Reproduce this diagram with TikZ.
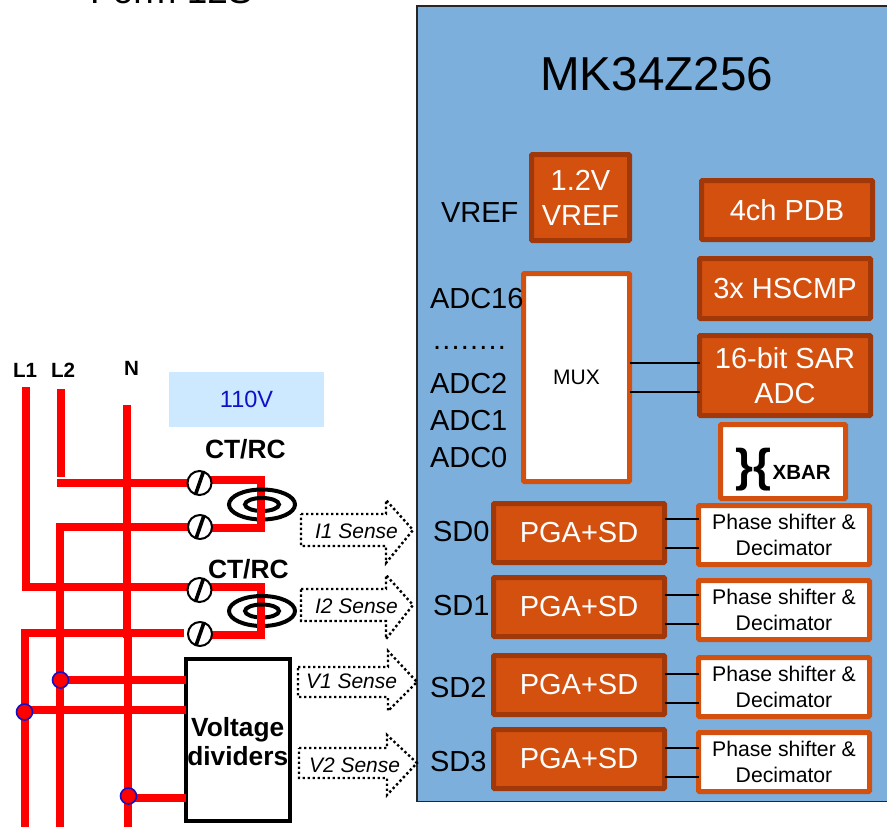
\documentclass[tikz,border=0pt]{standalone}
\usepackage{fontspec}
\usetikzlibrary{calc}
\setmainfont{Liberation Sans}
\newcommand\fsz[2]{\fontsize{#1}{#2}\selectfont}
\definecolor{chipblue}{HTML}{7CAFDC}
\definecolor{blockor}{HTML}{D4500F}
\definecolor{blockdk}{HTML}{A0380A}
\definecolor{paleblue}{HTML}{CCE9FF}
\definecolor{voltblue}{HTML}{1010C8}
\tikzset{
  darkblock/.style={draw=blockdk,fill=blockor,line width=5pt,rounded corners=0.8pt,inner sep=0pt,outer sep=0pt,text=white,align=center},
  big/.style={font=\fsz{29}{35}},
  whiteblock/.style={draw=blockor,fill=white,line width=5pt,rounded corners=0.8pt,inner sep=0pt,outer sep=0pt,text=black,align=center},
  phaseblock/.style={whiteblock,minimum width=171pt,minimum height=59pt,font=\fsz{21.2}{26}},
  pgablock/.style={darkblock,big,minimum width=171pt,minimum height=59pt},
  lbl/.style={anchor=base west,inner sep=0pt,outer sep=0pt,font=\fsz{29}{35},text=black},
  boldlbl/.style={anchor=base west,inner sep=0pt,outer sep=0pt,font=\fsz{26.4}{29}\bfseries,text=black},
  linelbl/.style={anchor=base west,inner sep=0pt,outer sep=0pt,font=\fsz{20.6}{25}\bfseries,text=black},
  senselbl/.style={anchor=base west,inner sep=0pt,outer sep=0pt,font=\fsz{21}{25}\itshape,text=black},
  wire/.style={draw=red,line width=8pt,line join=miter},
  thin link/.style={draw=black,line width=2pt},
  terminal/.style={circle,draw=black,fill=white,line width=2pt,minimum size=24pt,inner sep=0pt,outer sep=0pt},
  slash/.style={draw=black,line width=3.6pt},
  coil/.style={draw=black,line width=4pt},
  junction/.style={circle,draw=voltblue,fill=red,line width=1.6pt,minimum size=16pt,inner sep=0pt,outer sep=0pt},
  sensearrow/.style={draw=black,line width=2.4pt,dash pattern=on 2.4pt off 2.6pt,line join=miter},
}
\begin{document}
\begin{tikzpicture}[x=1pt,y=-1pt]
\clip (0,0) rectangle (887,827);
\useasboundingbox (0,0) rectangle (887,827);
% top clipped title
\node[anchor=base west,inner sep=0pt,font=\fsz{37}{44}] (title) at (90,4) {Form 12S};
% chip
\node[draw=black!85,fill=chipblue,line width=1.6pt,minimum width=480pt,minimum height=795.5pt,inner sep=0pt,outer sep=0pt,anchor=north west] (chip) at (417,6) {};
\node[anchor=base west,inner sep=0pt,font=\fsz{47.6}{55}] (chipname) at (540,90) {MK34Z256};
% blocks
\node[darkblock,big,minimum width=98pt,minimum height=86pt] (vref) at (580.5,197.5) {1.2V\\VREF};
\node[darkblock,big,minimum width=171pt,minimum height=59pt] (pdb) at (787,210) {4ch PDB};
\node[darkblock,big,minimum width=171pt,minimum height=60pt] (hscmp) at (785,288.5) {3x HSCMP};
\node[darkblock,big,minimum width=171pt,minimum height=80pt] (adc) at (785,375.5) {16-bit SAR\\ADC};
\node[whiteblock,minimum width=106pt,minimum height=208pt,font=\fsz{21}{25}] (mux) at (576.5,377.5) {\raisebox{-1pt}{MUX}};
\node[whiteblock,minimum width=125pt,minimum height=74pt] (xbar) at (783,461.5) {};
\node[anchor=base west,inner sep=0pt,font=\fsz{46}{50}\bfseries] (brace) at (735,481) {\}\{};
\node[anchor=base west,inner sep=0pt,font=\fsz{20.5}{25}\bfseries] (xbartext) at (772.5,479) {XBAR};
\node[pgablock] (pga0) at (579,533) {PGA+SD};
\node[pgablock] (pga1) at (579,607) {PGA+SD};
\node[pgablock] (pga2) at (579,685) {PGA+SD};
\node[pgablock] (pga3) at (579,759) {PGA+SD};
\node[phaseblock] (ph0) at (784,535) {Phase shifter \&\\Decimator};
\node[phaseblock] (ph1) at (784,610) {Phase shifter \&\\Decimator};
\node[phaseblock] (ph2) at (784,687) {Phase shifter \&\\Decimator};
\node[phaseblock] (ph3) at (784,762) {Phase shifter \&\\Decimator};
% block links
\draw[thin link] (mux.east |- 0,362.5) -- (adc.west |- 0,362.5);
\draw[thin link] (mux.east |- 0,392) -- (adc.west |- 0,392);
\draw[thin link] (pga0.east |- 0,519) -- (ph0.west |- 0,519);
\draw[thin link] (pga0.east |- 0,548) -- (ph0.west |- 0,548);
\draw[thin link] (pga1.east |- 0,595) -- (ph1.west |- 0,595);
\draw[thin link] (pga1.east |- 0,624) -- (ph1.west |- 0,624);
\draw[thin link] (pga2.east |- 0,674) -- (ph2.west |- 0,674);
\draw[thin link] (pga2.east |- 0,703) -- (ph2.west |- 0,703);
\draw[thin link] (pga3.east |- 0,748) -- (ph3.west |- 0,748);
\draw[thin link] (pga3.east |- 0,777) -- (ph3.west |- 0,777);
% chip labels
\node[lbl] (lvref) at (441,222) {VREF};
\node[lbl] (ladc16) at (430,308) {ADC16};
\node[lbl] (ldots) at (433,349.5) {.\kern1.2pt.\kern1.2pt.\kern1.2pt.\kern1.2pt.\kern1.2pt.\kern1.2pt.\kern1.2pt.};
\node[lbl] (ladc2) at (430,393) {ADC2};
\node[lbl] (ladc1) at (430,430) {ADC1};
\node[lbl] (ladc0) at (430,467) {ADC0};
\node[lbl] (lsd0) at (433,541) {SD0};
\node[lbl] (lsd1) at (433,615) {SD1};
\node[lbl] (lsd2) at (430,697) {SD2};
\node[lbl] (lsd3) at (430,771) {SD3};
% 110V
\node[fill=paleblue,minimum width=155pt,minimum height=55pt,inner sep=0pt,text=voltblue,font=\fsz{23.5}{27}] (volt) at (246.5,399.5) {110V};
% labels
\node[linelbl] (ll1) at (13,377) {L1};
\node[linelbl] (ll2) at (51,377) {L2};
\node[linelbl] (ln) at (124,375) {N};
\node[boldlbl] (ct1) at (205,458) {CT/RC};
\node[boldlbl] (ct2) at (208,578) {CT/RC};
% voltage divider box
\node[draw=black,fill=white,line width=4pt,minimum width=104pt,minimum height=162pt,inner sep=0pt,outer sep=0pt] (vd) at (238,740) {};
\node[anchor=base,inner sep=0pt,font=\fsz{26.3}{29}\bfseries] (vdt1) at (237.7,736) {Voltage};
\node[anchor=base,inner sep=0pt,font=\fsz{26.3}{29}\bfseries] (vdt2) at (237.7,765) {dividers};
% terminals (positions first, drawn after the wires)
\coordinate (t1c) at (199.5,483);
\coordinate (t2c) at (200,527);
\coordinate (t3c) at (199.5,590);
\coordinate (t4c) at (200,634);
% power lines
\coordinate (l1top) at (25.5,387);
\coordinate (l2top) at (60.5,389);
\coordinate (l2end) at (60.5,477);
\coordinate (ntop) at (126.5,405);
\coordinate (nbend) at (126.5,638);
\coordinate (nbot) at (128,827);
\draw[wire] (l1top) -- (25.5,587) -- (t3c |- 0,587);
\draw[wire] (l2top) -- (l2end);
\draw[wire] (57,483) -- (t1c);
\draw[wire] (t2c) -- (59.5,527) -- (59.5,827);
\draw[wire] (184,633) -- (24.5,633) -- (24.5,827);
\draw[wire] (ntop) -- (nbend);
\draw[wire] (128,636) -- (nbot);
\draw[wire] (60.5,680) -- (vd.west |- 0,680);
\draw[wire] (24.5,710) -- (vd.west |- 0,710);
\draw[wire] (128,798) -- (vd.west |- 0,798);
% junctions
\node[junction] (j2) at (60.5,680) {};
\node[junction] (j1) at (24.5,712) {};
\node[junction] (j3) at (128.5,796) {};
% CT 1
\draw[wire] (t1c |- 0,480) -- (261,480) -- (261,504);
\draw[coil] (262,504.5) ellipse [x radius=33pt,y radius=15pt];
\draw[coil] (262,504.5) ellipse [x radius=17pt,y radius=6.5pt];
\draw[wire] (261,504) -- (261,528) -- (t2c |- 0,528);
% CT 2
\draw[wire] (t3c |- 0,587) -- (261,587) -- (261,611);
\draw[coil] (262,611) ellipse [x radius=33pt,y radius=15pt];
\draw[coil] (262,611) ellipse [x radius=17pt,y radius=6.5pt];
\draw[wire] (261,611) -- (261,635) -- (t4c |- 0,635);
% terminals
\foreach \nm/\c in {t1/t1c,t2/t2c,t3/t3c,t4/t4c}{
  \node[terminal] (\nm) at (\c) {};
  \draw[slash] ($(\nm.center)+(4,-11.5)$) -- ($(\nm.center)+(-4,11.5)$);
}
% sense arrows
\draw[sensearrow] (301,514) -- (386,514) -- (386,500) -- (413,530) -- (386,563) -- (386,546) -- (301,546) -- cycle;
\draw[sensearrow] (301,589) -- (386,589) -- (386,575) -- (413,605) -- (386,639) -- (386,621) -- (301,621) -- cycle;
\draw[sensearrow] (298,667) -- (388,667) -- (388,651) -- (417,682) -- (388,711) -- (388,697) -- (298,697) -- cycle;
\draw[sensearrow] (299,748) -- (387,748) -- (387,735) -- (417,763) -- (387,795) -- (387,778) -- (299,778) -- cycle;
\node[senselbl] (s1) at (315,538) {I1 Sense};
\node[senselbl] (s2) at (315,613) {I2 Sense};
\node[senselbl] (s3) at (306,688) {V1 Sense};
\node[senselbl] (s4) at (309,772) {V2 Sense};
\end{tikzpicture}
\end{document}
